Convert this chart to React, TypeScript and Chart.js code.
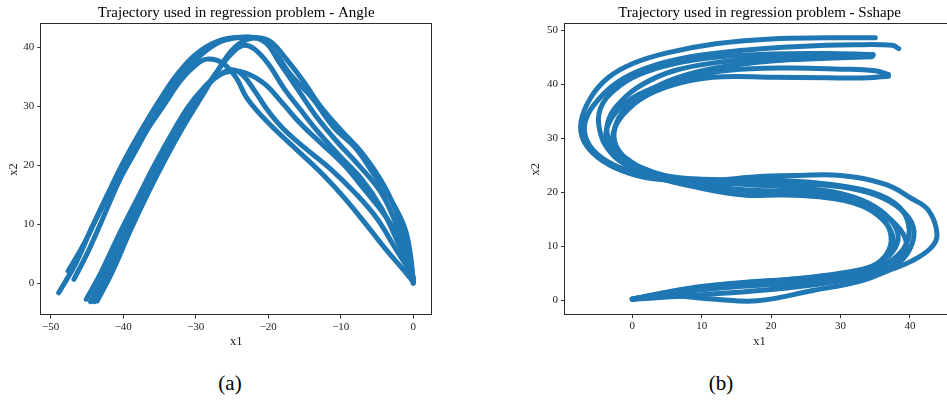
import React, { useEffect, useRef } from "react";
import { Chart, registerables } from "chart.js";

Chart.register(...registerables);

type Pt = [number, number];

// ---------- Angle demonstrations (x1, x2) ----------
const angleDemo1: Pt[] = [[-48.9,-1.6],[-46.5,3.5],[-44.5,9],[-42,15.5],[-40,20.5],[-37.5,26],[-35,31],[-32.5,35.5],[-30,38.8],[-27,41],[-24,41.7],[-21,41.3],[-19,39],[-17,35.5],[-14,31.5],[-11,26.5],[-8,23],[-5.5,18.6],[-3,14],[-1.2,9.5],[-0.4,5],[0,0.5]];
const angleDemo2: Pt[] = [[-47.6,2.1],[-45.5,6.5],[-43.5,11.5],[-41.5,16],[-39.5,20.5],[-37,25.5],[-34.5,30],[-32,34.5],[-30,37],[-28.5,38],[-26.5,37.5],[-24.5,35],[-23,31.5],[-21,28.5],[-19,26],[-15.5,22],[-12.5,18.5],[-9.5,14.5],[-6.5,10],[-3.8,5.8],[-1.5,2.5],[0,0.3]];
const angleDemo3: Pt[] = [[-46.8,0.7],[-45,5],[-43,10.5],[-40.5,17.5],[-38.5,22],[-36,27.5],[-33.5,32.5],[-31,36.5],[-28.5,39.5],[-26,41.2],[-23,41.7],[-20.5,41],[-18.5,37.5],[-16,33],[-13.5,28.5],[-10.5,24],[-7.5,20],[-4.5,15.5],[-2.5,10.5],[-1,5.5],[0,1]];
const angleDemo4: Pt[] = [[-45.1,-2.7],[-43,2],[-40.5,8.5],[-38,14.5],[-35.5,20.5],[-33,26],[-31,30],[-29,33],[-27,35.2],[-25,36],[-23,35.6],[-20.5,33.8],[-18,30.5],[-15.5,27],[-12.5,23.5],[-9.5,20],[-6.8,16],[-3.9,11.5],[-1.3,6.2],[0,0.8]];
const angleDemo5: Pt[] = [[-44.5,-3.1],[-42.5,1.5],[-40,8],[-37.5,14.5],[-35,20.5],[-32.5,26],[-30.5,30.5],[-28.5,33.5],[-26.5,35.5],[-25,36.2],[-23.5,35.3],[-21.8,32.5],[-20,29.2],[-18,26.3],[-15,23],[-11.5,19.5],[-8,15.3],[-5,11],[-2.5,6],[-0.5,2],[0,0.2]];
const angleDemo6: Pt[] = [[-44,-3.1],[-42,1.5],[-39.5,8.5],[-37,15],[-34.5,21],[-32,26.5],[-29.5,31.5],[-27,36],[-25,39.5],[-23,41.3],[-21,41.6],[-19.5,40.8],[-17.5,38],[-15,34],[-12.8,30],[-10,26],[-7,22],[-4,16.5],[-2,11],[-0.7,5.5],[0,0.5]];
const angleDemo7: Pt[] = [[-43.6,-3],[-41.5,2],[-39,9],[-36.5,15.5],[-34,21.5],[-31.5,27],[-29,32],[-27,36],[-25,39],[-23.5,40.3],[-22,39.8],[-20,37.2],[-17.8,33],[-15.6,29.5],[-13,25.5],[-10.3,21.8],[-7.2,17.8],[-4.5,13],[-2.5,8],[-1,3.5],[0,0]];

// ---------- Sshape demonstrations (x1, x2) ----------
const sshapeDemo1: Pt[] = [[35,48.6],[28,48.6],[20,48.4],[12,47.5],[5,45.8],[0,43.8],[-3.5,41.2],[-6,37.5],[-7.4,33],[-7,29.5],[-5,26.5],[-1.5,24],[3,22.5],[10,22],[17,22.8],[24,23.1],[30,23.1],[36.4,21.5],[40.3,18.8],[42.7,16.6],[43.9,12.3],[43.1,9.8],[40.3,7.3],[36.9,5.5],[33,3.6],[26,1.8],[18,-0.1],[12,0.2],[6,0.8],[2,0.6],[0,0.2]];
const sshapeDemo2: Pt[] = [[38.4,46.6],[37.5,47.2],[32,47.3],[24,47],[16,46.3],[8,45],[2,43],[-2,40.5],[-5,37],[-6.8,33],[-6.5,29.5],[-4.5,26.5],[-1,24.2],[4,22.6],[10,21.8],[17,21.6],[24,21.5],[30,21],[35,19.5],[38.5,17],[40.5,13.5],[40,9.5],[37.9,6.5],[34,4.6],[28,3.2],[20,2],[12,1.2],[5,0.6],[0,0.2]];
const sshapeDemo3: Pt[] = [[34.7,45.5],[28,45.7],[20,45.6],[12,45],[6,43.8],[1,41.8],[-2.5,39],[-4.6,35.5],[-4.7,31.5],[-3.5,28],[-0.5,25],[4,23.2],[10,22.4],[17,22.3],[24,22],[30,21.2],[35,19.8],[38.5,17.2],[39.8,14],[39.5,10.5],[37.5,7.5],[34,5.2],[28,3.7],[20,2.9],[12,2.2],[5,1.2],[0,0.2]];
const sshapeDemo4: Pt[] = [[34.7,45.3],[28,45.2],[20,44.9],[12,44],[6,42.5],[1.5,40],[-1.5,37],[-3.4,33.5],[-3.5,30],[-2,27],[1,24.7],[5,23],[10,22],[17,21.4],[24,20.8],[30,19.8],[34,18],[37,15.2],[38.3,12],[37.5,9],[35,6.5],[30,5],[22,3.8],[14,3],[6,1.7],[0,0.2]];
const sshapeDemo5: Pt[] = [[34.5,45.1],[28,44.8],[20,44.3],[12,43],[6,41],[2,38.5],[-1,35.5],[-2.5,32],[-2.3,28.5],[0,25.5],[4,23.2],[10,21.3],[17,20.4],[24,20],[30,19.3],[34,17.5],[36.5,14.5],[37.3,11],[36.3,8],[34,6],[29,4.6],[22,3.6],[14,2.6],[6,1.5],[0,0.2]];
const sshapeDemo6: Pt[] = [[36.9,41.8],[35,42.5],[30,42.8],[22,43],[14,42.6],[8,41.3],[3,39.3],[-1,36.5],[-3.3,33],[-3.8,29.5],[-2.5,26.5],[1,24],[6,22],[12,20.8],[17,20.3],[24,20],[30,19],[34.5,17],[38,14],[39.5,10.5],[38.5,7.5],[36,5.5],[31,4.3],[24,3.4],[16,2.8],[8,1.8],[0,0.2]];
const sshapeDemo7: Pt[] = [[36.9,41.5],[34,41.2],[28,41.2],[20,41.3],[13,41.4],[8,40.6],[3,38.5],[-0.5,35.5],[-2.5,32],[-2.7,28.5],[-1,25.5],[3,23],[9,21],[16,19.5],[22,19.5],[28,19],[33,17.5],[36,15],[37.5,12],[37.2,9],[35,6.5],[31,5],[24,4],[16,3.3],[8,2.2],[0,0.2]];

const angleDemos = [angleDemo1, angleDemo2, angleDemo3, angleDemo4, angleDemo5, angleDemo6, angleDemo7];
const sshapeDemos = [sshapeDemo1, sshapeDemo2, sshapeDemo3, sshapeDemo4, sshapeDemo5, sshapeDemo6, sshapeDemo7];

const angleTitle = "Trajectory used in regression problem - Angle";
const sshapeTitle = "Trajectory used in regression problem - Sshape";
const xLabel = "x1";
const yLabel = "x2";

const SERIF = "'Liberation Serif', 'Times New Roman', serif";
const LINE_COLOR = "#1f77b4";

const framePlugin = {
  id: "frame",
  afterDatasetsDraw(chart: any) {
    const { ctx, chartArea: a } = chart;
    ctx.save();
    ctx.strokeStyle = "#2b2b2b";
    ctx.lineWidth = 1;
    ctx.strokeRect(Math.round(a.left) - 0.5, Math.round(a.top) - 0.5, Math.round(a.right - a.left) + 1, Math.round(a.bottom - a.top) + 1);
    ctx.restore();
  },
};

type Props = {
  demos: Pt[][];
  title: string;
  left: number;
  width: number;
  height: number;
  xMin: number;
  xMax: number;
  yMin: number;
  yMax: number;
  yAxisWidth: number;
  xAxisHeight: number;
  padRight: number;
};

function TrajChart(p: Props) {
  const ref = useRef<HTMLCanvasElement | null>(null);
  useEffect(() => {
    if (!ref.current) return;
    const fmt = (v: any) => String(v).replace("-", "\u2212");
    const tickFont = { family: SERIF, size: 11 };
    const labelFont = { family: SERIF, size: 12.5 };
    const chart = new Chart(ref.current, {
      type: "scatter",
      data: {
        datasets: p.demos.map((d, i) => ({
          label: "demo " + (i + 1),
          data: d.map(([x, y]) => ({ x, y })),
          showLine: true,
          borderColor: LINE_COLOR,
          backgroundColor: LINE_COLOR,
          borderWidth: 5,
          tension: 0.4,
          pointRadius: 0,
          borderCapStyle: "round",
          borderJoinStyle: "round",
        })),
      },
      options: {
        animation: false,
        responsive: false,
        layout: { padding: { left: 0, right: p.padRight, top: 0, bottom: 0 } },
        plugins: {
          legend: { display: false },
          tooltip: { enabled: false },
          title: {
            display: true,
            text: p.title,
            fullSize: false,
            color: "#000",
            font: { family: SERIF, size: 15, weight: "normal", lineHeight: 1.2 },
            padding: { top: 4, bottom: 2.3 },
          },
        },
        scales: {
          x: {
            type: "linear",
            min: p.xMin,
            max: p.xMax,
            ticks: { stepSize: 10, includeBounds: false, color: "#222", font: tickFont, padding: 2, maxRotation: 0, callback: fmt },
            grid: { drawOnChartArea: false, drawTicks: true, tickLength: 4, color: "#333" },
            border: { display: false },
            title: { display: true, text: xLabel, color: "#222", font: labelFont, padding: { top: 0, bottom: 1 } },
            afterFit: (s: any) => { s.height = p.xAxisHeight; },
          },
          y: {
            type: "linear",
            min: p.yMin,
            max: p.yMax,
            ticks: { stepSize: 10, includeBounds: false, color: "#222", font: tickFont, padding: 3, callback: fmt },
            grid: { drawOnChartArea: false, drawTicks: true, tickLength: 4, color: "#333" },
            border: { display: false },
            title: { display: true, text: yLabel, color: "#222", font: labelFont, padding: { top: 6, bottom: 0 } },
            afterFit: (s: any) => { s.width = p.yAxisWidth; },
          },
        },
      } as any,
      plugins: [framePlugin],
    });
    return () => chart.destroy();
  }, []);
  return (
    <canvas
      ref={ref}
      width={p.width}
      height={p.height}
      style={{ position: "absolute", left: p.left, top: 0, width: p.width, height: p.height }}
    />
  );
}

export default function App() {
  const capStyle: React.CSSProperties = {
    position: "absolute",
    top: 371,
    fontFamily: SERIF,
    fontSize: 21,
    lineHeight: "24px",
    color: "#000",
    transform: "translateX(-50%)",
    whiteSpace: "nowrap",
  };
  return (
    <div style={{ position: "absolute", left: 0, top: 0, width: 947, height: 400, overflow: "hidden", background: "#fff" }}>
      <TrajChart
        demos={angleDemos}
        title={angleTitle}
        left={0}
        width={470}
        height={350}
        xMin={-51.3}
        xMax={2.45}
        yMin={-5.3}
        yMax={43.9}
        yAxisWidth={41.3}
        xAxisHeight={35.3}
        padRight={39}
      />
      <TrajChart
        demos={sshapeDemos}
        title={sshapeTitle}
        left={522}
        width={438}
        height={350}
        xMin={-9.7}
        xMax={46.35}
        yMin={-2.54}
        yMax={51.1}
        yAxisWidth={43}
        xAxisHeight={36}
        padRight={6}
      />
      <div style={{ ...capStyle, left: 230 }}>(a)</div>
      <div style={{ ...capStyle, left: 721 }}>(b)</div>
    </div>
  );
}
